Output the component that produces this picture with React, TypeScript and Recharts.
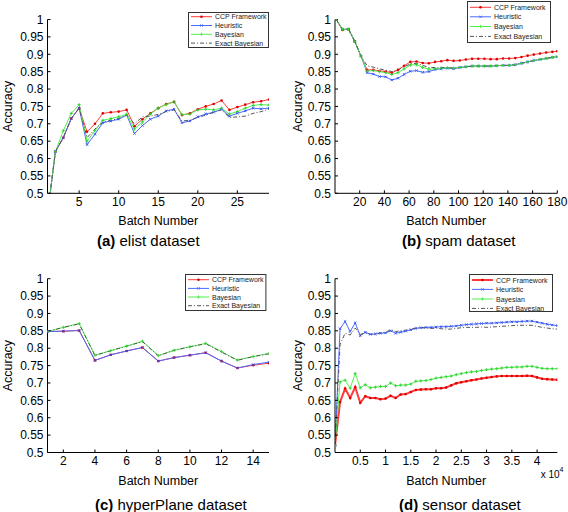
import { LineChart, Line, XAxis, YAxis, Legend } from "recharts";

const yTicks = [0.5, 0.55, 0.6, 0.65, 0.7, 0.75, 0.8, 0.85, 0.9, 0.95, 1];
const seriesNames = ["CCP Framework", "Heuristic", "Bayesian", "Exact Bayesian"];

// (a) elist
const elistBatch = [1, 2, 3, 4, 5, 6, 7, 8, 9, 10, 11, 12, 13, 14, 15, 16, 17, 18, 19, 20, 21, 22, 23, 24, 25, 26, 27, 28, 29];
const elistCcp = [0.44, 0.62, 0.66, 0.715, 0.745, 0.677, 0.7, 0.73, 0.733, 0.735, 0.74, 0.693, 0.713, 0.73, 0.745, 0.757, 0.763, 0.725, 0.73, 0.742, 0.75, 0.757, 0.767, 0.74, 0.748, 0.755, 0.762, 0.765, 0.77];
const elistHeu = [0.44, 0.62, 0.66, 0.715, 0.745, 0.64, 0.67, 0.703, 0.708, 0.713, 0.725, 0.672, 0.695, 0.713, 0.722, 0.737, 0.742, 0.703, 0.708, 0.72, 0.728, 0.733, 0.742, 0.722, 0.73, 0.737, 0.745, 0.743, 0.745];
const elistBay = [0.44, 0.62, 0.68, 0.73, 0.755, 0.65, 0.68, 0.71, 0.715, 0.72, 0.727, 0.685, 0.705, 0.728, 0.745, 0.755, 0.763, 0.727, 0.728, 0.74, 0.742, 0.74, 0.745, 0.728, 0.735, 0.745, 0.753, 0.755, 0.754];
const elistExact = [0.44, 0.62, 0.66, 0.715, 0.745, 0.66, 0.685, 0.705, 0.71, 0.715, 0.725, 0.7, 0.72, 0.722, 0.727, 0.735, 0.74, 0.708, 0.71, 0.718, 0.725, 0.733, 0.74, 0.718, 0.72, 0.722, 0.73, 0.735, 0.742];
const elistTicks = [5, 10, 15, 20, 25];

// (b) spam
const spamBatch = [1, 6, 11, 16, 21, 26, 31, 36, 41, 46, 51, 56, 61, 66, 71, 76, 81, 86, 91, 96, 101, 106, 111, 116, 121, 126, 131, 136, 141, 146, 151, 156, 161, 166, 171, 176, 180];
const spamCcp = [1.0, 0.97, 0.972, 0.937, 0.895, 0.855, 0.855, 0.852, 0.85, 0.847, 0.855, 0.867, 0.878, 0.879, 0.875, 0.874, 0.878, 0.88, 0.883, 0.881, 0.882, 0.885, 0.887, 0.887, 0.887, 0.886, 0.886, 0.888, 0.888, 0.889, 0.892, 0.896, 0.899, 0.902, 0.905, 0.907, 0.909];
const spamHeu = [1.0, 0.972, 0.972, 0.937, 0.895, 0.847, 0.843, 0.836, 0.835, 0.826, 0.831, 0.842, 0.851, 0.853, 0.848, 0.85, 0.856, 0.858, 0.86, 0.858, 0.862, 0.864, 0.866, 0.866, 0.866, 0.866, 0.867, 0.868, 0.868, 0.87, 0.874, 0.878, 0.882, 0.885, 0.888, 0.891, 0.893];
const spamBay = [1.0, 0.972, 0.972, 0.937, 0.895, 0.852, 0.853, 0.85, 0.847, 0.842, 0.847, 0.858, 0.869, 0.87, 0.862, 0.857, 0.858, 0.86, 0.861, 0.86, 0.862, 0.864, 0.866, 0.866, 0.866, 0.866, 0.867, 0.868, 0.868, 0.87, 0.874, 0.878, 0.882, 0.885, 0.888, 0.891, 0.893];
const spamExact = [1.0, 0.972, 0.972, 0.937, 0.895, 0.867, 0.863, 0.858, 0.854, 0.85, 0.855, 0.864, 0.872, 0.874, 0.868, 0.862, 0.862, 0.862, 0.862, 0.86, 0.862, 0.864, 0.866, 0.866, 0.866, 0.866, 0.867, 0.868, 0.868, 0.87, 0.874, 0.878, 0.882, 0.885, 0.888, 0.891, 0.893];
const spamTicks = [20, 40, 60, 80, 100, 120, 140, 160, 180];

// (c) hyperPlane
const hyperBatch = [1, 2, 3, 4, 5, 6, 7, 8, 9, 10, 11, 12, 13, 14, 15];
const hyperCcp = [0.848, 0.849, 0.851, 0.765, 0.781, 0.792, 0.802, 0.763, 0.773, 0.78, 0.787, 0.763, 0.743, 0.751, 0.757];
const hyperHeu = [0.848, 0.849, 0.851, 0.765, 0.781, 0.792, 0.802, 0.763, 0.773, 0.78, 0.787, 0.763, 0.743, 0.753, 0.76];
const hyperBay = [0.848, 0.86, 0.871, 0.78, 0.793, 0.806, 0.82, 0.779, 0.794, 0.804, 0.814, 0.79, 0.766, 0.776, 0.785];
const hyperExact = [0.848, 0.86, 0.87, 0.779, 0.793, 0.806, 0.819, 0.778, 0.794, 0.804, 0.813, 0.789, 0.765, 0.776, 0.784];
const hyperTicks = [2, 4, 6, 8, 10, 12, 14];

// (d) sensor
const sensorBatch = [0, 1000, 2000, 3000, 4000, 5000, 6000, 7000, 8000, 9000, 10000, 11000, 12000, 13000, 14000, 15000, 16000, 17000, 18000, 19000, 20000, 21000, 22000, 23000, 24000, 25000, 26000, 27000, 28000, 29000, 30000, 31000, 32000, 33000, 34000, 35000, 36000, 37000, 38000, 39000, 40000, 41000, 42000, 43000, 44000];
const sensorCcp = [0.52, 0.645, 0.684, 0.657, 0.688, 0.643, 0.662, 0.657, 0.657, 0.653, 0.655, 0.663, 0.657, 0.667, 0.668, 0.674, 0.68, 0.681, 0.682, 0.682, 0.685, 0.685, 0.687, 0.693, 0.699, 0.702, 0.705, 0.708, 0.71, 0.713, 0.715, 0.717, 0.719, 0.72, 0.72, 0.72, 0.72, 0.72, 0.721, 0.72, 0.716, 0.712, 0.711, 0.71, 0.709];
const sensorHeu = [0.52, 0.856, 0.877, 0.848, 0.873, 0.836, 0.846, 0.84, 0.841, 0.843, 0.844, 0.85, 0.843, 0.846, 0.849, 0.853, 0.857, 0.859, 0.86, 0.86, 0.861, 0.862, 0.862, 0.863, 0.864, 0.866, 0.868, 0.869, 0.87, 0.871, 0.872, 0.872, 0.873, 0.874, 0.875, 0.876, 0.876, 0.877, 0.878, 0.878, 0.875, 0.872, 0.869, 0.867, 0.865];
const sensorBay = [0.52, 0.703, 0.708, 0.685, 0.727, 0.686, 0.695, 0.686, 0.688, 0.69, 0.69, 0.7, 0.692, 0.694, 0.694, 0.697, 0.705, 0.706, 0.707, 0.71, 0.714, 0.716, 0.718, 0.72, 0.724, 0.727, 0.73, 0.732, 0.733, 0.736, 0.738, 0.74, 0.741, 0.743, 0.745, 0.745, 0.746, 0.746, 0.748, 0.748, 0.745, 0.742, 0.741, 0.741, 0.741];
const sensorExact = [0.52, 0.81, 0.843, 0.838, 0.858, 0.84, 0.843, 0.84, 0.842, 0.844, 0.846, 0.853, 0.848, 0.85, 0.852, 0.855, 0.858, 0.859, 0.858, 0.857, 0.858, 0.856, 0.855, 0.855, 0.857, 0.859, 0.86, 0.86, 0.86, 0.861, 0.86, 0.861, 0.862, 0.863, 0.864, 0.865, 0.866, 0.866, 0.866, 0.866, 0.863, 0.86, 0.858, 0.856, 0.855];
const sensorTicks = [5000, 10000, 15000, 20000, 25000, 30000, 35000, 40000];

const RED = "#ff3a3a";
const BLUE = "#4a6aff";
const GREEN = "#50f050";
const GRAY = "#555";

const toRows = (x: number[], a: number[], b: number[], c: number[], d: number[]) =>
  x.map((v, i) => ({ x: v, ccp: a[i], heu: b[i], bay: c[i], exact: d[i] }));

function markerPath(kind: string, cx: number, cy: number) {
  const s = 1.2;
  if (kind === "x") return `M${cx - s},${cy - s}L${cx + s},${cy + s}M${cx - s},${cy + s}L${cx + s},${cy - s}`;
  return `M${cx - 1.6},${cy}L${cx + 1.6},${cy}M${cx},${cy - 1.6}L${cx},${cy + 1.6}`;
}

const dotFn = (kind: string, color: string) => (p: any) => {
  const { cx, cy, index } = p;
  if (cx == null || cy == null) return <g key={index} />;
  if (kind === "star") return <circle key={index} cx={cx} cy={cy} r={1.3} fill={color} />;
  return <path key={index} d={markerPath(kind, cx, cy)} stroke={color} strokeWidth={0.9} fill="none" />;
};

function LegendBox({ w, h, rows, ccpWidth }: { w: number; h: number; rows: number[]; ccpWidth: number }) {
  const styles = [
    { color: RED, kind: "star", dash: undefined, sw: ccpWidth },
    { color: BLUE, kind: "x", dash: undefined, sw: 1 },
    { color: GREEN, kind: "plus", dash: undefined, sw: 1 },
    { color: GRAY, kind: "", dash: "4 2 1 2", sw: 1 },
  ];
  return (
    <svg width={w} height={h} style={{ display: "block" }}>
      <rect x={0.5} y={0.5} width={w - 1} height={h - 1} fill="#fff" stroke="#333" strokeWidth={1} />
      {styles.map((s, i) => (
        <g key={i}>
          <line x1={3} x2={24} y1={rows[i]} y2={rows[i]} stroke={s.color} strokeWidth={s.sw} strokeDasharray={s.dash} />
          {s.kind === "star" && <circle cx={13.5} cy={rows[i]} r={1.3} fill="#e00000" />}
          {s.kind && s.kind !== "star" && (
            <path d={markerPath(s.kind, 13.5, rows[i])} stroke={s.color} strokeWidth={0.9} fill="none" />
          )}
          <text x={27} y={rows[i] + 2.5} fontSize={7} fill="#222">
            {seriesNames[i]}
          </text>
        </g>
      ))}
    </svg>
  );
}

type PanelProps = {
  left: number;
  top: number;
  data: any[];
  xDomain: number[];
  xTicks: number[];
  xFmt?: (v: number) => string;
  plot: { l: number; t: number; r: number; b: number };
  legend: { x: number; y: number; w: number; h: number; rows: number[] };
  tag: string;
  caption: string;
  capX: number;
  capY: number;
  yLabX: number;
  sci?: boolean;
  ccpWidth?: number;
};

function Panel(p: PanelProps) {
  const W = 284;
  const H = 256;
  const xAxisH = 30;
  const ccpW = p.ccpWidth ?? 1;
  const XLabel = (lp: any) => {
    const vb = lp.viewBox;
    return (
      <g>
        <text x={vb.x + vb.width / 2} y={vb.y + 32} textAnchor="middle" fontSize={12.5} fill="#000">
          Batch Number
        </text>
        <text x={p.capX} y={p.capY} fontSize={15} fill="#000">
          <tspan fontWeight="bold">({p.tag})</tspan> {p.caption}
        </text>
        {p.sci && (
          <text x={256.7} y={222} fontSize={10} fill="#000">
            x 10<tspan dy={-6} fontSize={7}>4</tspan>
          </text>
        )}
      </g>
    );
  };
  const YLabel = () => {
    const cy = p.plot.t + (p.plot.b - p.plot.t) / 2;
    const x = p.yLabX + 4.4;
    return (
      <text x={x} y={cy} transform={`rotate(-90 ${x} ${cy})`} textAnchor="middle" fontSize={12.5} fill="#000">
        Accuracy
      </text>
    );
  };
  return (
    <div style={{ position: "absolute", left: p.left, top: p.top, width: W, height: H }}>
      <LineChart
        width={W}
        height={H}
        data={p.data}
        margin={{ top: p.plot.t, right: W - p.plot.r, bottom: H - p.plot.b - xAxisH, left: 0 }}
      >
        <XAxis
          type="number"
          dataKey="x"
          domain={p.xDomain}
          ticks={p.xTicks}
          interval={0}
          allowDataOverflow
          height={xAxisH}
          tickFormatter={p.xFmt}
          tickSize={-3}
          tickMargin={7}
          stroke="#000"
          tick={{ fill: "#000", fontSize: 12 }}
          label={<XLabel />}
        />
        <YAxis
          type="number"
          domain={[0.5, 1]}
          ticks={yTicks}
          interval={0}
          allowDataOverflow
          width={p.plot.l}
          tickFormatter={(v: number) => String(+v.toFixed(2))}
          tickSize={-3}
          tickMargin={7}
          stroke="#000"
          tick={{ fill: "#000", fontSize: 12 }}
          label={<YLabel />}
        />
        <Line type="linear" dataKey="ccp" stroke={RED} strokeWidth={ccpW} dot={dotFn("star", "#e00000")} activeDot={false} isAnimationActive={false} />
        <Line type="linear" dataKey="heu" stroke={BLUE} strokeWidth={1} dot={dotFn("x", "#3050f0")} activeDot={false} isAnimationActive={false} />
        <Line type="linear" dataKey="bay" stroke={GREEN} strokeWidth={1} dot={dotFn("plus", "#30d030")} activeDot={false} isAnimationActive={false} />
        <Line type="linear" dataKey="exact" stroke={GRAY} strokeWidth={1} strokeDasharray="4 2 1 2" dot={false} activeDot={false} isAnimationActive={false} />
        <Legend
          layout="horizontal"
          verticalAlign="middle"
          align="center"
          wrapperStyle={{ left: p.legend.x, top: p.legend.y, width: p.legend.w, height: p.legend.h }}
          content={() => <LegendBox w={p.legend.w} h={p.legend.h} rows={p.legend.rows} ccpWidth={ccpW} />}
        />
      </LineChart>
    </div>
  );
}

export default function App() {
  return (
    <div
      style={{
        position: "absolute",
        left: 0,
        top: 0,
        width: 568,
        height: 512,
        background: "#fff",
        fontFamily: "'Liberation Sans', Arial, sans-serif",
      }}
    >
      <Panel
        left={0}
        top={0}
        data={toRows(elistBatch, elistCcp, elistHeu, elistBay, elistExact)}
        xDomain={[1, 29]}
        xTicks={elistTicks}
        plot={{ l: 47.5, t: 19.5, r: 269, b: 193.3 }}
        legend={{ x: 188, y: 12, w: 81, h: 36, rows: [4.7, 13.5, 22.3, 31.1] }}
        tag="a"
        caption="elist dataset"
        capX={97}
        capY={246}
        yLabX={7.5}
      />
      <Panel
        left={284}
        top={0}
        data={toRows(spamBatch, spamCcp, spamHeu, spamBay, spamExact)}
        xDomain={[0, 180]}
        xTicks={spamTicks}
        plot={{ l: 51, t: 19.5, r: 273.3, b: 193.3 }}
        legend={{ x: 183, y: 1, w: 84, h: 42, rows: [6.3, 15.8, 25.5, 35.4] }}
        tag="b"
        caption="spam dataset"
        capX={118}
        capY={246}
        yLabX={13.3}
      />
      <Panel
        left={0}
        top={256}
        data={toRows(hyperBatch, hyperCcp, hyperHeu, hyperBay, hyperExact)}
        xDomain={[1, 15]}
        xTicks={hyperTicks}
        plot={{ l: 47.5, t: 22.7, r: 269, b: 196.5 }}
        legend={{ x: 185.3, y: 18.3, w: 81.4, h: 37, rows: [5.7, 14.4, 23, 31.7] }}
        tag="c"
        caption="hyperPlane dataset"
        capX={95}
        capY={253.6}
        yLabX={7.3}
      />
      <Panel
        left={284}
        top={256}
        data={toRows(sensorBatch, sensorCcp, sensorHeu, sensorBay, sensorExact)}
        xDomain={[0, 44000]}
        xTicks={sensorTicks}
        xFmt={(v: number) => String(v / 10000)}
        plot={{ l: 51, t: 22.7, r: 273.3, b: 196.5 }}
        legend={{ x: 185.3, y: 18.3, w: 84, h: 38, rows: [6, 15.4, 25, 34.4] }}
        tag="d"
        caption="sensor dataset"
        capX={115}
        capY={253.6}
        yLabX={13.3}
        sci
        ccpWidth={2}
      />
    </div>
  );
}
